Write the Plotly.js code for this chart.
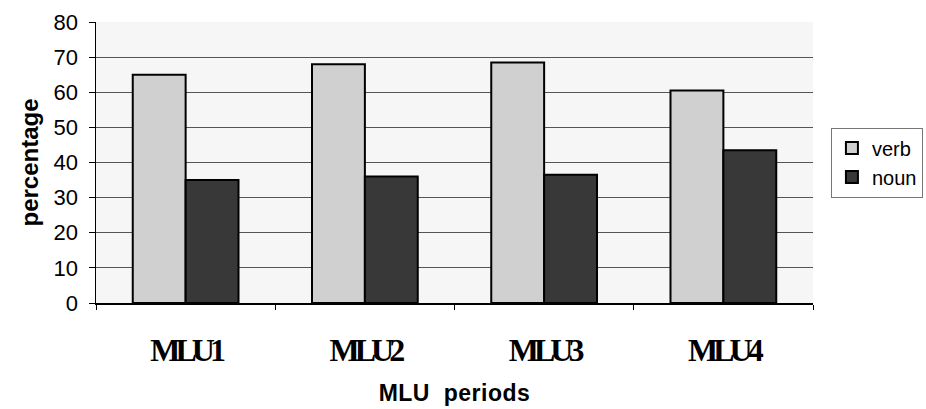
<!DOCTYPE html>
<html><head><meta charset="utf-8">
<script src="https://cdn.plot.ly/plotly-3.0.1.min.js"></script>
<style>body{margin:0;background:#fff}
.xtick text{letter-spacing:-5px}
.xtitle{letter-spacing:0.5px}
</style></head>
<body><div id="chart" style="width:926px;height:409px"></div>
<script>
var categories = ["MLU1", "MLU2", "MLU3", "MLU4"];
var verbValues = [65, 68, 68.5, 60.5];
var nounValues = [35, 36, 36.5, 43.5];
var yTicks = [0, 10, 20, 30, 40, 50, 60, 70, 80];

var traces = [
  {type: "bar", name: "verb", x: categories, y: verbValues,
   marker: {color: "#d0d0d0", line: {color: "#000", width: 2}}},
  {type: "bar", name: "noun", x: categories, y: nounValues,
   marker: {color: "#383838", line: {color: "#000", width: 2}}}
];
var layout = {
  width: 926, height: 409,
  margin: {l: 96, r: 113, t: 22, b: 106, autoexpand: false},
  paper_bgcolor: "#ffffff", plot_bgcolor: "#f6f6f6",
  barmode: "group", bargap: 0.41, bargroupgap: 0,
  font: {family: "Liberation Sans, Arial, sans-serif", color: "#000"},
  xaxis: {
    tickfont: {family: "Liberation Serif, Times New Roman, serif", size: 32, color: "#000", weight: "bold"},
    ticks: "outside", tickson: "boundaries", ticklen: 5, tickcolor: "#000",
    ticklabelstandoff: 18,
    showline: true, linecolor: "#000", linewidth: 1.5, showgrid: false,
    title: {text: "<b>MLU&nbsp; periods</b>", font: {size: 23}, standoff: 18}
  },
  yaxis: {
    range: [0, 80], tickvals: yTicks, ticktext: yTicks.map(String),
    tickfont: {size: 22, color: "#000"},
    ticks: "outside", ticklen: 6, tickcolor: "#000",
    ticklabelstandoff: 6,
    showline: true, linecolor: "#000", linewidth: 1.5,
    showgrid: true, gridcolor: "#555", gridwidth: 1, zeroline: false,
    title: {text: "<b>percentage</b>", font: {size: 24}, standoff: 8}
  },
  legend: {
    x: 1.025, xanchor: "left", y: 0.5, yanchor: "middle",
    font: {size: 20, color: "#000"},
    bordercolor: "#777", borderwidth: 1, bgcolor: "#fff",
    tracegroupgap: 12, itemwidth: 30
  },
  showlegend: true
};
Plotly.newPlot("chart", traces, layout, {displayModeBar: false, staticPlot: true});
</script></body></html>
